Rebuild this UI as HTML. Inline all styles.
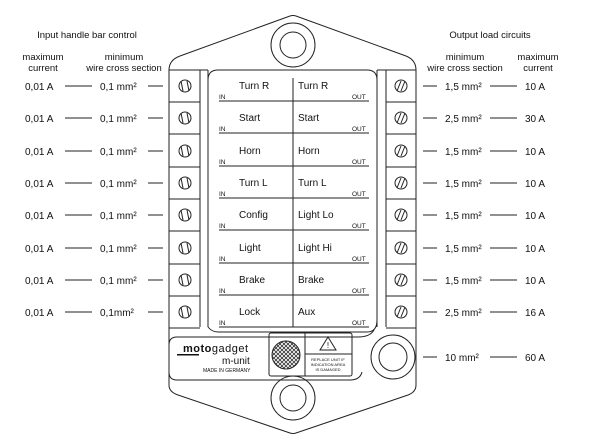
<!DOCTYPE html>
<html><head><style>
body{margin:0;background:#fff;}
svg{display:block;font-family:"Liberation Sans",Arial,sans-serif;}
</style></head><body>
<svg width="600" height="448" viewBox="0 0 600 448" xmlns="http://www.w3.org/2000/svg">
<defs>
<pattern id="hatch" width="4" height="4" patternUnits="userSpaceOnUse">
<path d="M0,0 L4,4 M4,0 L0,4" stroke="#333" stroke-width="0.8"/>
</pattern>
<g id="rb" fill="none" stroke="#222" stroke-width="1">
<line x1="169" y1="32" x2="200" y2="32"/>
<line x1="386" y1="32" x2="416" y2="32"/>
<line x1="219" y1="31" x2="369" y2="31"/>
<circle cx="185" cy="16" r="6"/><line x1="183" y1="21" x2="181" y2="11"/><line x1="189" y1="21" x2="187" y2="11"/>
<circle cx="401" cy="16" r="6"/><line x1="397" y1="21" x2="401" y2="11"/><line x1="401" y1="21" x2="405" y2="11"/>
<line x1="65" y1="16" x2="92" y2="16"/><line x1="148" y1="16" x2="163" y2="16"/>
<line x1="423" y1="16" x2="437" y2="16"/><line x1="490" y1="16" x2="517" y2="16"/>
</g>
</defs>
<g fill="#111" font-size="9.5">
<text x="87" y="38" text-anchor="middle">Input handle bar control</text>
<text x="43" y="60" text-anchor="middle">maximum</text>
<text x="43" y="71" text-anchor="middle">current</text>
<text x="124" y="60" text-anchor="middle">minimum</text>
<text x="124" y="71" text-anchor="middle">wire cross section</text>
<text x="490" y="38" text-anchor="middle">Output load circuits</text>
<text x="465" y="60" text-anchor="middle">minimum</text>
<text x="465" y="71" text-anchor="middle">wire cross section</text>
<text x="538" y="60" text-anchor="middle">maximum</text>
<text x="538" y="71" text-anchor="middle">current</text>
</g>
<g fill="none" stroke="#222" stroke-width="1">
<path d="M169,70 Q169,60 180,56 L290,16 Q293,15 296,16 L406,56 Q416,60 416,70 L416,385 Q416,392 408,395 L296,433 Q293,434 290,433 L178,395 Q169,392 169,385 Z"/>
<circle cx="293" cy="45" r="22"/><circle cx="293" cy="45" r="13"/>
<circle cx="293" cy="398" r="22"/><circle cx="293" cy="398" r="13"/>
<circle cx="393" cy="357" r="22"/><circle cx="393" cy="357" r="14"/>
<line x1="200" y1="70" x2="200" y2="327"/>
<line x1="208" y1="70" x2="208" y2="327"/>
<line x1="386" y1="70" x2="386" y2="327"/>
<line x1="377" y1="70" x2="377" y2="327"/>
<line x1="169" y1="70" x2="208" y2="70"/>
<line x1="377" y1="70" x2="416" y2="70"/>
<path d="M208,327 L208,80 Q208,70 218,70 L367,70 Q377,70 377,80 L377,320 Q377,332 367,332 L218,332 Q212,332 208,327"/>
<path d="M169,345 Q169,337 177,337 L358,337 Q370,337 374,330 M169,372 Q169,380 177,380 L350,380 Q360,380 362,372"/>
<line x1="293" y1="78" x2="293" y2="327"/>
<rect x="269" y="333" width="83" height="43" rx="2"/>
<line x1="305" y1="333" x2="305" y2="376"/>
<line x1="305" y1="354" x2="352" y2="354"/>
<path d="M328,337 L336,350 L320,350 Z"/>
<line x1="423" y1="357" x2="437" y2="357"/><line x1="490" y1="357" x2="517" y2="357"/>
</g>
<circle cx="286" cy="355" r="14" fill="url(#hatch)" stroke="#222"/>
<text x="328" y="348" font-size="8" text-anchor="middle" fill="#111">!</text>
<g font-size="4" fill="#111" text-anchor="middle">
<text x="328" y="361">REPLACE UNIT IF</text>
<text x="328" y="366">INDICATION AREA</text>
<text x="328" y="371">IS DAMAGED</text>
</g>
<g fill="#111">
<text x="183" y="352" font-size="11" font-weight="bold" letter-spacing="0.5">moto<tspan font-weight="normal">gadget</tspan></text>
<rect x="177" y="354" width="22" height="1.5"/>
<text x="222" y="364" font-size="10">m-unit</text>
<text x="203" y="372" font-size="5">MADE IN GERMANY</text>
<text x="445" y="361" font-size="10">10 mm²</text>
<text x="525" y="361" font-size="10">60 A</text>
</g>

<g transform="translate(0,70)" fill="#111" font-size="10"><use href="#rb"/><text x="219" y="29" font-size="6.5">IN</text><text x="352" y="29" font-size="6.5">OUT</text><text x="239" y="19">Turn R</text><text x="298" y="19">Turn R</text><text x="25" y="20">0,01 A</text><text x="100" y="20">0,1 mm²</text><text x="445" y="20">1,5 mm²</text><text x="525" y="20">10 A</text></g>
<g transform="translate(0,102)" fill="#111" font-size="10"><use href="#rb"/><text x="219" y="29" font-size="6.5">IN</text><text x="352" y="29" font-size="6.5">OUT</text><text x="239" y="19">Start</text><text x="298" y="19">Start</text><text x="25" y="20">0,01 A</text><text x="100" y="20">0,1 mm²</text><text x="445" y="20">2,5 mm²</text><text x="525" y="20">30 A</text></g>
<g transform="translate(0,135)" fill="#111" font-size="10"><use href="#rb"/><text x="219" y="29" font-size="6.5">IN</text><text x="352" y="29" font-size="6.5">OUT</text><text x="239" y="19">Horn</text><text x="298" y="19">Horn</text><text x="25" y="20">0,01 A</text><text x="100" y="20">0,1 mm²</text><text x="445" y="20">1,5 mm²</text><text x="525" y="20">10 A</text></g>
<g transform="translate(0,167)" fill="#111" font-size="10"><use href="#rb"/><text x="219" y="29" font-size="6.5">IN</text><text x="352" y="29" font-size="6.5">OUT</text><text x="239" y="19">Turn L</text><text x="298" y="19">Turn L</text><text x="25" y="20">0,01 A</text><text x="100" y="20">0,1 mm²</text><text x="445" y="20">1,5 mm²</text><text x="525" y="20">10 A</text></g>
<g transform="translate(0,199)" fill="#111" font-size="10"><use href="#rb"/><text x="219" y="29" font-size="6.5">IN</text><text x="352" y="29" font-size="6.5">OUT</text><text x="239" y="19">Config</text><text x="298" y="19">Light Lo</text><text x="25" y="20">0,01 A</text><text x="100" y="20">0,1 mm²</text><text x="445" y="20">1,5 mm²</text><text x="525" y="20">10 A</text></g>
<g transform="translate(0,232)" fill="#111" font-size="10"><use href="#rb"/><text x="219" y="29" font-size="6.5">IN</text><text x="352" y="29" font-size="6.5">OUT</text><text x="239" y="19">Light</text><text x="298" y="19">Light Hi</text><text x="25" y="20">0,01 A</text><text x="100" y="20">0,1 mm²</text><text x="445" y="20">1,5 mm²</text><text x="525" y="20">10 A</text></g>
<g transform="translate(0,264)" fill="#111" font-size="10"><use href="#rb"/><text x="219" y="29" font-size="6.5">IN</text><text x="352" y="29" font-size="6.5">OUT</text><text x="239" y="19">Brake</text><text x="298" y="19">Brake</text><text x="25" y="20">0,01 A</text><text x="100" y="20">0,1 mm²</text><text x="445" y="20">1,5 mm²</text><text x="525" y="20">10 A</text></g>
<g transform="translate(0,296)" fill="#111" font-size="10"><use href="#rb"/><text x="219" y="29" font-size="6.5">IN</text><text x="352" y="29" font-size="6.5">OUT</text><text x="239" y="19">Lock</text><text x="298" y="19">Aux</text><text x="25" y="20">0,01 A</text><text x="100" y="20">0,1mm²</text><text x="445" y="20">2,5 mm²</text><text x="525" y="20">16 A</text></g>
</svg>
</body></html>
